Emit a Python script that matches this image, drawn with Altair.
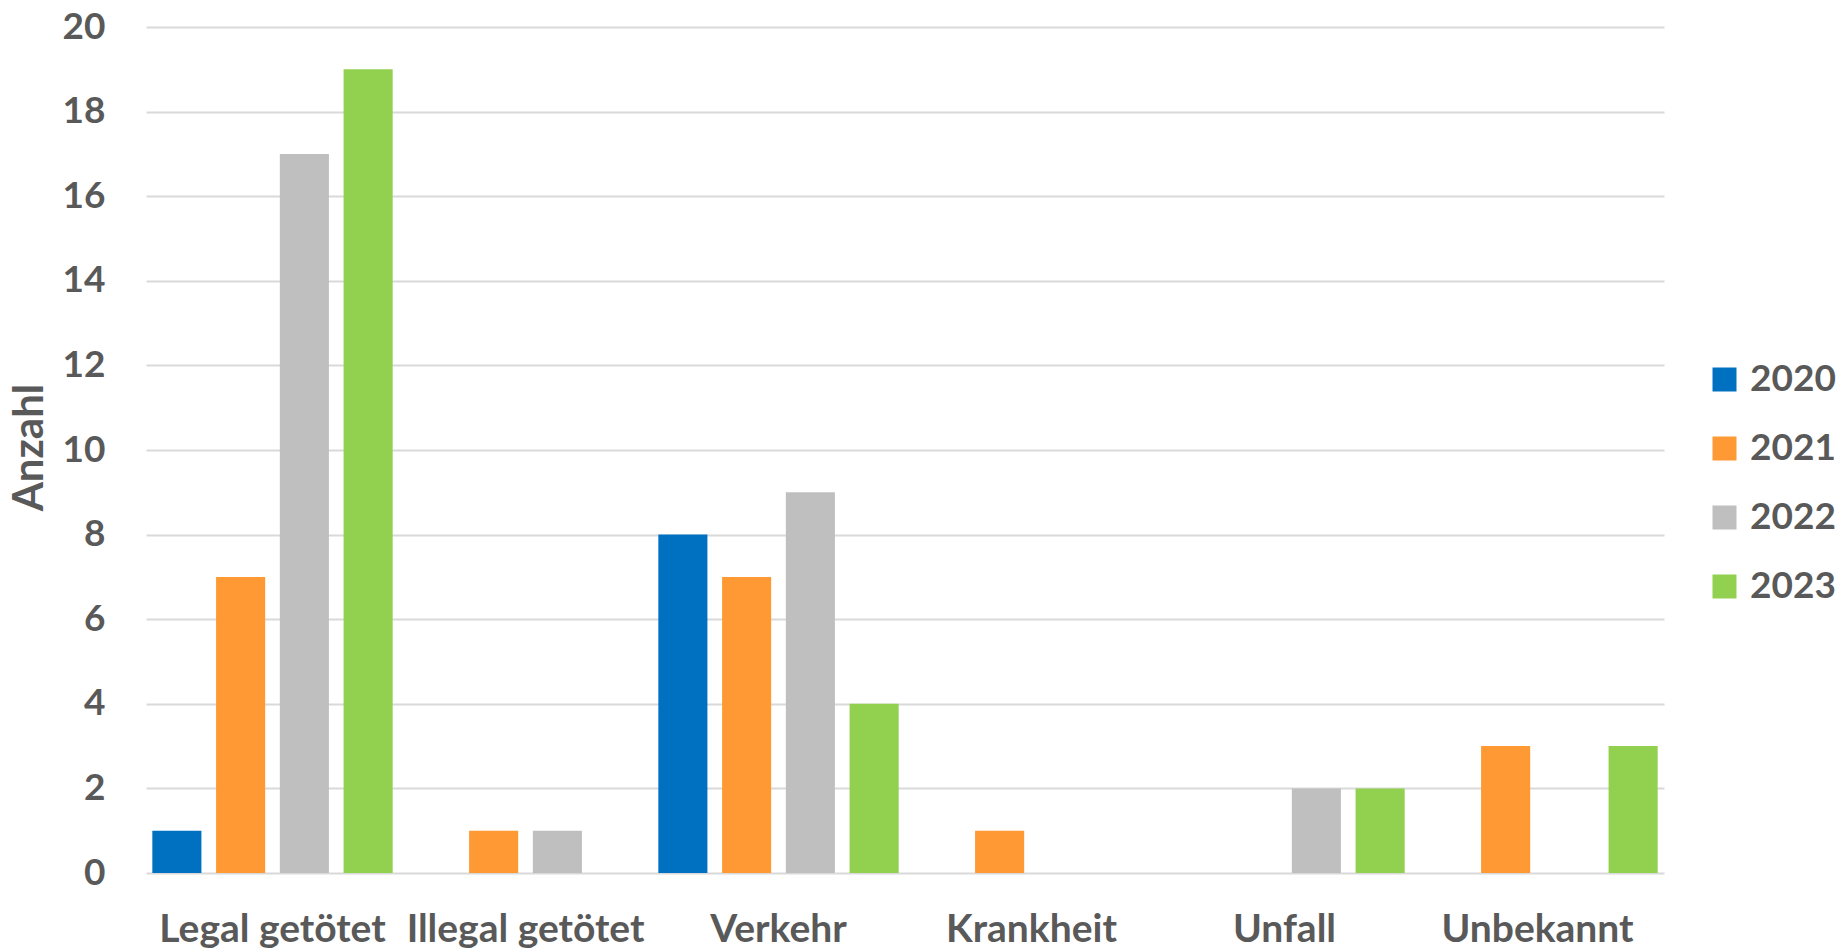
import altair as alt
import pandas as pd

categories = ["Legal getötet", "Illegal getötet", "Verkehr", "Krankheit", "Unfall", "Unbekannt"]
years = ["2020", "2021", "2022", "2023"]
colors = ["#0070C0", "#FF9933", "#BFBFBF", "#92D050"]
v2020 = [1, 0, 8, 0, 0, 0]
v2021 = [7, 1, 7, 1, 0, 3]
v2022 = [17, 1, 9, 0, 2, 0]
v2023 = [19, 0, 4, 0, 2, 3]

rows = []
for yr, vals in zip(years, [v2020, v2021, v2022, v2023]):
    for c, v in zip(categories, vals):
        rows.append({"Kategorie": c, "Jahr": yr, "Anzahl": v})
df = pd.DataFrame(rows)

FONT = "Lato"
TXT = "#595959"
W, H = 1518, 846

chart = alt.Chart(df).transform_filter(alt.datum.Anzahl > 0).mark_bar().encode(
    x=alt.X("Kategorie:N", sort=categories,
            scale=alt.Scale(paddingInner=0.05, paddingOuter=0.025),
            axis=alt.Axis(title=None, labelAngle=0, labelFontSize=39, labelFont=FONT,
                          labelFontWeight="bold", labelColor=TXT, labelPadding=37,
                          labelBaseline="top", domain=False, ticks=False, labelLimit=400)),
    xOffset=alt.XOffset("Jahr:N", sort=years, scale=alt.Scale(paddingInner=0.23, paddingOuter=0)),
    y=alt.Y("Anzahl:Q", scale=alt.Scale(domain=[0, 20], nice=False),
            axis=alt.Axis(values=list(range(0, 21, 2)), title="Anzahl", titleFont=FONT,
                          titleFontSize=42, titleFontWeight="bold", titleColor=TXT,
                          titleX=-117, titleY=H / 2 - 3, titleAngle=-90, titleAlign="center",
                          titleBaseline="middle",
                          labelFont=FONT, labelFontSize=37, labelFontWeight="bold",
                          labelColor=TXT, labelPadding=41, domain=False, ticks=False,
                          grid=True, gridColor="#D9D9D9", gridWidth=2)),
    color=alt.Color("Jahr:N", sort=years, scale=alt.Scale(domain=years, range=colors),
                    legend=alt.Legend(title=None, orient="none", legendX=1560, legendY=334,
                                      symbolType="square", symbolSize=576, symbolStrokeWidth=0,
                                      labelFont=FONT, labelFontSize=37, labelFontWeight="bold",
                                      labelColor=TXT, rowPadding=31, labelOffset=7)),
).properties(
    width=W, height=H,
    autosize=alt.AutoSizeParams(type="none"),
    padding={"left": 146, "top": 27, "right": 173, "bottom": 76},
    background="white",
).configure_view(stroke=None)

chart.save("out.html", embed_options={"renderer": "svg", "actions": False})
